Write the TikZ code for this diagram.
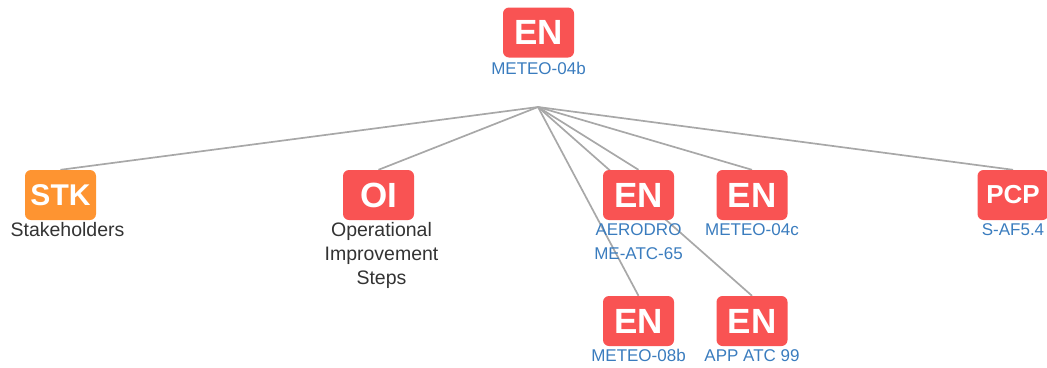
\documentclass[tikz,border=0pt]{standalone}
\usepackage{fontspec}
\setmainfont{Liberation Sans}
\usetikzlibrary{positioning,backgrounds}
\definecolor{enred}{HTML}{F95353}
\definecolor{stkorange}{HTML}{FE9431}
\definecolor{linkblue}{HTML}{3A7CBE}
\definecolor{textgray}{HTML}{333333}
\definecolor{edgegray}{HTML}{A8A8A8}
\def\gap{3pt}

\begin{document}
\begin{tikzpicture}[x=1pt,y=-1pt]
  \tikzset{badge/.style={minimum height=50pt,minimum width=71pt,inner sep=0pt,rounded corners=6pt,fill=enred,text=white,font=\fontsize{35}{35}\selectfont\bfseries},
    idtext/.style={inner sep=0pt,align=center,text=linkblue,font=\fontsize{17}{24}\selectfont},
    caption/.style={inner sep=0pt,align=center,text=textgray,font=\fontsize{19.5}{24}\selectfont},
    link/.style={draw=edgegray,line width=1.7pt}}
  \useasboundingbox (0,0) rectangle (1047,367);
  \clip (0,0) rectangle (1047,367);

  % parent
  \node[badge] at (538.5,32.5) (top) {EN};
  \node[idtext] [below=4pt of top] {METEO-04b};
  \coordinate (hub) at (538,107);

  % first row
  \node[badge,fill=stkorange,font=\fontsize{30}{30}\selectfont\bfseries] at (60.5,195) (stk) {STK};
  \node[caption] [below=2pt of stk,xshift=7pt] {Stakeholders};
  \node[badge] at (378.5,195) (oi) {OI};
  \node[caption] [below=2pt of oi,xshift=3pt] {Operational\\Improvement\\Steps};
  \node[badge] at (638.5,195) (aero) {EN};
  \node[idtext] [below=\gap of aero] {AERODRO\\ME-ATC-65};
  \node[badge] at (752,195) (meteoc) {EN};
  \node[idtext] [below=\gap of meteoc] {METEO-04c};
  \node[badge,font=\fontsize{26}{26}\selectfont\bfseries] at (1013,195) (pcp) {PCP};
  \node[idtext] [below=\gap of pcp] {S-AF5.4};

  % second row
  \node[badge] at (638.5,321) (meteob) {EN};
  \node[idtext] [below=\gap of meteob] {METEO-08b};
  \node[badge] at (752,321) (app) {EN};
  \node[idtext] [below=\gap of app] {APP ATC 99};

  \begin{scope}[on background layer]
    \foreach \n in {stk,oi,aero,meteoc,pcp,meteob,app}
      \draw[link] (hub) -- (\n.north);
  \end{scope}
\end{tikzpicture}
\end{document}
